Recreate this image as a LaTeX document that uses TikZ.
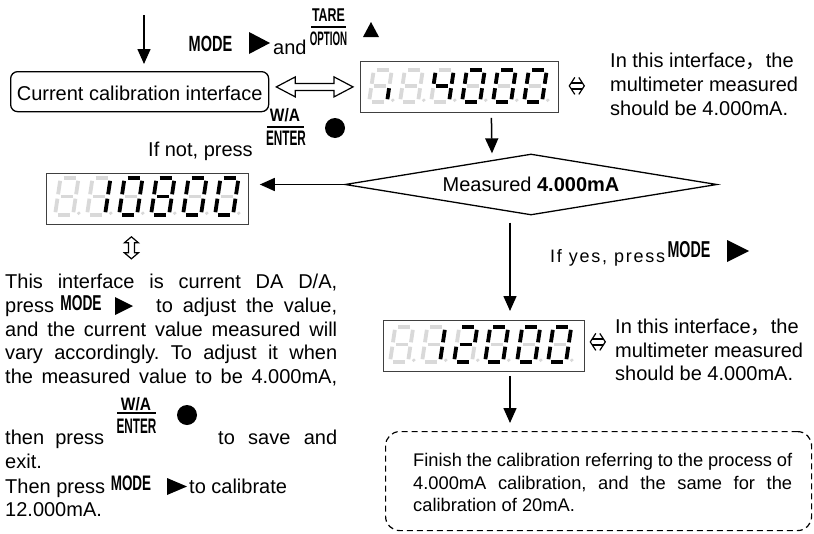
\documentclass[tikz,border=0pt]{standalone}
\usepackage{fontspec}
\setmainfont{Liberation Sans}
\newfontfamily\cjkfont{Noto Sans CJK SC}
\usepackage{graphicx}
\usetikzlibrary{shapes.geometric,arrows.meta,calc}
\frenchspacing

\tikzset{
  segoff/.style={draw=black!15, line width=3.8pt},
  segon/.style={draw=black, line width=3.8pt},
  dispbox/.style={draw=black!75, line width=0.8pt, fill=white, inner sep=0pt, anchor=north west},
  flow/.style={-{Triangle[length=15pt,width=13pt]}, line width=1.5pt},
  t/.style={inner sep=0pt, anchor=base west, font=\fontsize{20pt}{24pt}\selectfont},
  tb/.style={inner sep=0pt, anchor=base west, font=\fontsize{18.3pt}{22pt}\selectfont},
  key/.style={inner sep=0pt},
  keyrule/.style={line width=1.5pt},
  hollow/.style={draw, line width=1.2pt, fill=white, line join=miter},
  thinbi/.style={line width=1.2pt},
}

\newcommand\keyt[3]{\scalebox{#1}[1]{\fontsize{#2pt}{#2pt}\selectfont\bfseries #3}}

\makeatletter
\newcommand\segline[3]{\ifnum#1=1\relax\draw[segon] #2 -- #3;\else\draw[segoff] #2 -- #3;\fi}
% #1 x0, #2 y bottom, #3 height, #4 bits a b c d e f g
\newcommand\segdigit[4]{%
  \begin{scope}[shift={(#1,#2)}, xslant=0.15]
    \def\digH{#3}%
    \segdigit@bits#4\relax
    \fill[black!15] (24.5,-1.8) circle (1.9pt);
  \end{scope}}
\def\segdigit@bits#1#2#3#4#5#6#7\relax{%
  \segline{#1}{(4,-\digH)}{(16,-\digH)}%
  \segline{#2}{(19,-\digH+2.8)}{(19,-\digH/2-2.2)}%
  \segline{#3}{(19,-\digH/2+2.2)}{(19,-2.8)}%
  \segline{#4}{(4,0)}{(16,0)}%
  \segline{#5}{(1,-2.8)}{(1,-\digH/2+2.2)}%
  \segline{#6}{(1,-\digH/2-2.2)}{(1,-\digH+2.8)}%
  \segline{#7}{(4,-\digH/2)}{(16,-\digH/2)}}
\makeatother

\newcommand\smallbiarrow[1]{%
  \begin{scope}[shift={(#1)}]
    \draw[thinbi] (-2,-8.5) -- (-7.5,0) -- (-2,8.5);
    \draw[thinbi] (2,-8.5) -- (7.5,0) -- (2,8.5);
    \draw[thinbi] (-5.5,-3) -- (5.5,-3);
    \draw[thinbi] (-5.5,3) -- (5.5,3);
  \end{scope}}

\begin{document}
\begin{tikzpicture}[x=1pt,y=-1pt]
\useasboundingbox (0,0) rectangle (814,533);
\fill[white] (0,0) rectangle (814,533);

% ---------- top ----------
\coordinate (top) at (144,15);
\node[draw, line width=1.3pt, rounded corners=7pt, minimum width=258pt, minimum height=40pt,
      inner sep=0pt, text height=22pt, text depth=4pt, anchor=north west,
      font=\fontsize{20pt}{24pt}\selectfont] (cur) at (10,71) {Current calibration interface};
\draw[flow, shorten >=7pt] (top) -- (top |- cur.north);

\node[key] (kmode1) at (210.5,43.5) {\keyt{0.66}{22}{MODE}};
\fill (249,32) -- (270,43) -- (249,54) -- cycle;
\node[t] (and) at (273,54) {and};
\node[key] (tare) at (328.5,15.5) {\keyt{0.67}{18.5}{TARE}};
\draw[keyrule] (311,27) -- (346,27);
\node[key] (opt) at (328.5,39) {\keyt{0.5}{19.5}{OPTION}};
\fill (363,37) -- (371,22) -- (379,37) -- cycle;

% ---------- display 1 ----------
\node[dispbox, minimum width=198pt, minimum height=51pt] (d1) at (360,61) {};
\segdigit{368}{102}{32}{0010000}
\segdigit{399}{102}{32}{0000000}
\segdigit{430}{102}{32}{0110011}
\segdigit{461}{102}{32}{1111110}
\segdigit{492}{102}{32}{1111110}
\segdigit{523}{102}{32}{1111110}

% hollow double arrow between box and display
\coordinate (hL) at ([xshift=7pt]cur.east |- d1.west);
\coordinate (hR) at ([xshift=-7pt]d1.west);
\draw[hollow] (hL) -- ++(19pt,10pt) -- ++(0pt,-6.5pt) -- ($(hR)+(-19pt,3.5pt)$) -- ++(0pt,6.5pt)
   -- (hR) -- ++(-19pt,-10pt) -- ++(0pt,6.5pt) -- ($(hL)+(19pt,-3.5pt)$) -- ++(0pt,-6.5pt) -- cycle;

\smallbiarrow{[xshift=18pt,yshift=1pt]d1.east}
\node[t] (n1a) at (610,67) {In this interface{\cjkfont ，}the};
\node[t] (n1b) at (610,91) {multimeter measured};
\node[t] (n1c) at (610,115) {should be 4.000mA.};

\node[key] (wa1) at (285,115.5) {\keyt{0.86}{18}{W/A}};
\draw[keyrule] (267,127) -- (304,127);
\node[key] (ent1) at (286,138.5) {\keyt{0.56}{21}{ENTER}};
\fill (335,128) circle (10pt);
\node[t] (ifnot) at (148,156) {If not, press};

% ---------- decision ----------
\node[diamond, draw, line width=1.3pt, aspect=6, minimum width=372pt, minimum height=61pt,
      inner sep=0pt, font=\fontsize{20pt}{24pt}\selectfont] (dia) at (531,184.5) {Measured \textbf{4.000mA}};
\draw[flow] ([xshift=32pt,yshift=-5pt]d1.south) -- ([xshift=-39pt]dia.north);

% ---------- display 2 ----------
\node[dispbox, minimum width=202pt, minimum height=51pt] (d2) at (46,173) {};
\segdigit{54}{215}{37}{0000000}
\segdigit{86}{215}{37}{0110000}
\segdigit{118}{215}{37}{1111110}
\segdigit{150}{215}{37}{1111111}
\segdigit{182}{215}{37}{1111110}
\segdigit{214}{215}{37}{1111110}
\draw[flow, shorten >=11pt] (dia.west) -- (dia.west -| d2.east);

% up-down hollow arrow
\begin{scope}[shift={([xshift=-16pt,yshift=-23pt]d2.south)}]
  \draw[hollow] (0,-11) -- (7,-5) -- (3,-5) -- (3,5) -- (7,5) -- (0,11) -- (-7,5) -- (-3,5) -- (-3,-5) -- (-7,-5) -- cycle;
\end{scope}

% ---------- left paragraph ----------
\node[t] (p1) at (5,288) {\makebox[332pt][s]{This interface is current DA D/A,}};
\node[t] (p2a) at (5,312) {press};
\node[key] (kmode2) at (81,303.5) {\keyt{0.64}{21.5}{MODE}};
\fill (115,297) -- (133,306) -- (115,315) -- cycle;
\node[t] (p2b) at (156,312) {\makebox[181pt][s]{to adjust the value,}};
\node[t] (p3) at (5,336) {\makebox[332pt][s]{and the current value measured will}};
\node[t] (p4) at (5,359) {\makebox[332pt][s]{vary accordingly. To adjust it when}};
\node[t] (p5) at (5,383) {\makebox[332pt][s]{the measured value to be 4.000mA,}};
\node[key] (wa2) at (136,404) {\keyt{0.86}{18}{W/A}};
\draw[keyrule] (117,413) -- (156,413);
\node[key] (ent2) at (136.5,426) {\keyt{0.56}{21}{ENTER}};
\fill (187,415) circle (10pt);
\node[t] (p6a) at (5,444) {\makebox[99pt][s]{then press}};
\node[t] (p6b) at (218,444) {\makebox[119pt][s]{to save and}};
\node[t] (p7) at (5,468) {exit.};
\node[t] (p8a) at (5,493) {Then press};
\node[key] (kmode3) at (131,483) {\keyt{0.64}{21}{MODE}};
\fill (167,478) -- (187,486.5) -- (167,495) -- cycle;
\node[t] (p8b) at (189,493) {to calibrate};
\node[t] (p9) at (5,516) {12.000mA.};

% ---------- yes branch ----------
\node[inner sep=0pt, anchor=base west, font=\fontsize{18pt}{22pt}\selectfont] (ifyes) at (550,262)
   {\addfontfeatures{LetterSpace=10}If yes, press};
\node[key] (kmode4) at (689,249.5) {\keyt{0.62}{23}{MODE}};
\fill (727,240) -- (749,251) -- (727,262) -- cycle;

% ---------- display 3 ----------
\node[dispbox, minimum width=201pt, minimum height=51pt] (d3) at (383,320) {};
\segdigit{389}{362}{35}{0000000}
\segdigit{421}{362}{35}{0110000}
\segdigit{453}{362}{35}{1101101}
\segdigit{484}{362}{35}{1111110}
\segdigit{516}{362}{35}{1111110}
\segdigit{547}{362}{35}{1111110}
\coordinate (a3) at ([xshift=-21pt,yshift=-7pt]dia.south);
\draw[flow, shorten >=9pt] (a3) -- (a3 |- d3.north);
\smallbiarrow{[xshift=13pt,yshift=4pt]d3.east}
\node[t] (n3a) at (615,333) {In this interface{\cjkfont ，}the};
\node[t] (n3b) at (615,357) {multimeter measured};
\node[t] (n3c) at (615,380) {should be 4.000mA.};

% ---------- final dashed box ----------
\node[draw, dash pattern=on 6pt off 4pt, line width=1.2pt, rounded corners=14pt,
      minimum width=426pt, minimum height=99pt, inner sep=0pt, anchor=north west] (fin) at (385,431) {};
\draw[flow, shorten >=8pt] ([yshift=-4pt]d3.south -| a3) -- (a3 |- fin.north);
\node[tb] (f1) at (413,466) {\makebox[379pt][s]{Finish the calibration referring to the process of}};
\node[tb] (f2) at (413,489) {\makebox[379pt][s]{4.000mA calibration, and the same for the}};
\node[tb] (f3) at (413,511) {calibration of 20mA.};
\end{tikzpicture}
\end{document}
